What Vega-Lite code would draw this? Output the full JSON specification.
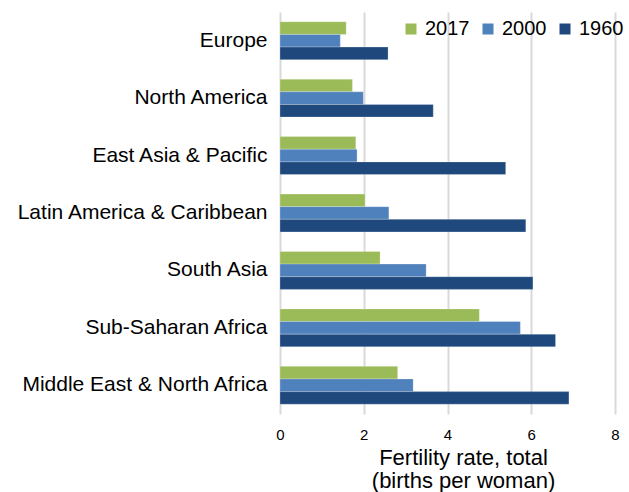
{
  "$schema": "https://vega.github.io/schema/vega-lite/v6.json",
  "width": 335,
  "height": 402,
  "autosize": {"type": "none"},
  "padding": {"left": 280, "top": 12, "right": 14, "bottom": 78},
  "background": "white",
  "config": {
    "font": "Liberation Sans",
    "view": {"stroke": null}
  },
  "data": {
    "values": [
      {"region": "Europe", "year": "2017", "rate": 1.58},
      {"region": "Europe", "year": "2000", "rate": 1.44},
      {"region": "Europe", "year": "1960", "rate": 2.58},
      {"region": "North America", "year": "2017", "rate": 1.73},
      {"region": "North America", "year": "2000", "rate": 1.99},
      {"region": "North America", "year": "1960", "rate": 3.66},
      {"region": "East Asia & Pacific", "year": "2017", "rate": 1.81},
      {"region": "East Asia & Pacific", "year": "2000", "rate": 1.84},
      {"region": "East Asia & Pacific", "year": "1960", "rate": 5.39},
      {"region": "Latin America & Caribbean", "year": "2017", "rate": 2.03},
      {"region": "Latin America & Caribbean", "year": "2000", "rate": 2.6},
      {"region": "Latin America & Caribbean", "year": "1960", "rate": 5.87},
      {"region": "South Asia", "year": "2017", "rate": 2.39},
      {"region": "South Asia", "year": "2000", "rate": 3.49},
      {"region": "South Asia", "year": "1960", "rate": 6.04},
      {"region": "Sub-Saharan Africa", "year": "2017", "rate": 4.76},
      {"region": "Sub-Saharan Africa", "year": "2000", "rate": 5.74},
      {"region": "Sub-Saharan Africa", "year": "1960", "rate": 6.58},
      {"region": "Middle East & North Africa", "year": "2017", "rate": 2.81},
      {"region": "Middle East & North Africa", "year": "2000", "rate": 3.18},
      {"region": "Middle East & North Africa", "year": "1960", "rate": 6.9}
    ]
  },
  "mark": {"type": "bar", "stroke": "#ffffff", "strokeOpacity": 0.35, "strokeWidth": 0.7},
  "encoding": {
    "y": {
      "field": "region",
      "type": "nominal",
      "sort": ["Europe", "North America", "East Asia & Pacific", "Latin America & Caribbean", "South Asia", "Sub-Saharan Africa", "Middle East & North Africa"],
      "scale": {"paddingInner": 0.34, "paddingOuter": 0.17},
      "axis": {
        "title": null,
        "domain": false,
        "ticks": false,
        "labelFontSize": 21,
        "labelColor": "#000000",
        "labelPadding": 13,
        "labelLimit": 300
      }
    },
    "yOffset": {
      "field": "year",
      "type": "nominal",
      "sort": ["2017", "2000", "1960"]
    },
    "x": {
      "field": "rate",
      "type": "quantitative",
      "scale": {"domain": [0, 8]},
      "axis": {
        "values": [0, 2, 4, 6, 8],
        "domain": false,
        "ticks": false,
        "grid": true,
        "gridColor": "#D9D9D9",
        "gridWidth": 2,
        "labelFlush": false,
        "labelFontSize": 15,
        "labelColor": "#000000",
        "labelPadding": 13,
        "title": ["Fertility rate, total", "(births per woman)"],
        "titleFontSize": 22,
        "titleFontWeight": "normal",
        "titleColor": "#000000",
        "titlePadding": 5,
        "titleLineHeight": 23,
        "titleX": 183,
        "titleAlign": "center",
        "titleAnchor": null
      }
    },
    "color": {
      "field": "year",
      "type": "nominal",
      "sort": ["2017", "2000", "1960"],
      "scale": {"domain": ["2017", "2000", "1960"], "range": ["#9BBB59", "#4F81BD", "#1F497D"]},
      "legend": {
        "title": null,
        "orient": "none",
        "direction": "horizontal",
        "legendX": 121,
        "legendY": 7,
        "symbolType": "square",
        "symbolSize": 121,
        "symbolStrokeWidth": 0,
        "labelFontSize": 20,
        "labelColor": "#000000",
        "labelOffset": 4,
        "columnPadding": 8
      }
    }
  }
}
